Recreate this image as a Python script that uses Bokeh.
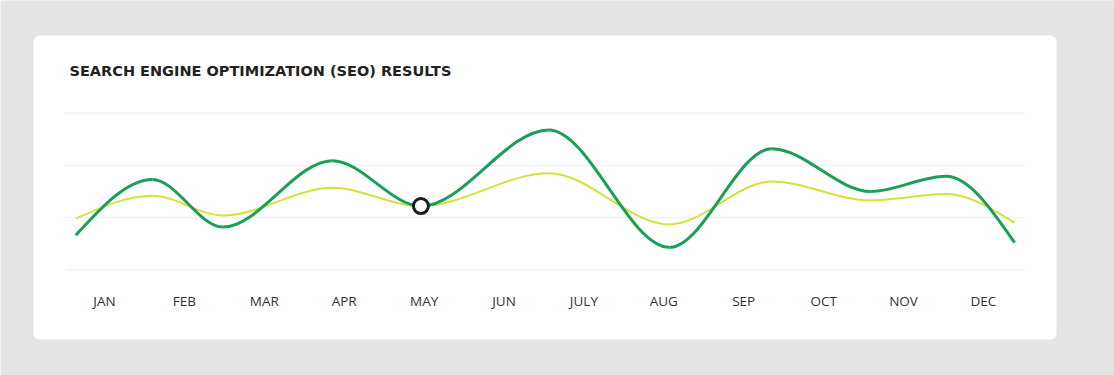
from bokeh.plotting import figure
from bokeh.models import Range1d, Label, ColumnDataSource
from bokeh.embed import file_html
from bokeh.resources import INLINE
from bokeh.core.properties import value

# ---------------- data ----------------
months = ["JAN", "FEB", "MAR", "APR", "MAY", "JUN", "JULY", "AUG", "SEP", "OCT", "NOV", "DEC"]
# sample positions in month units (0 = JAN, 11 = DEC)
point_x = [-0.36, 0.60, 1.48, 2.85, 3.96, 5.56, 7.07, 8.35, 9.59, 10.53, 11.39]
green_vals = [6.6, 17.3, 8.2, 20.9, 12.2, 26.8, 4.3, 23.2, 15.0, 17.9, 5.2]
yellow_vals = [9.8, 14.2, 10.4, 15.7, 12.2, 18.5, 8.7, 16.9, 13.3, 14.5, 9.0]
grid_values = [0, 10, 20, 30]
highlight_index = 4
title_text = "SEARCH ENGINE OPTIMIZATION (SEO) RESULTS"

# ---------------- layout helpers ----------------
W, H = 1114, 375
MX0, MDX = 104.0, 79.9      # page x of JAN, px per month
VY0, VDY = 269.3, 5.22      # page y of value 0, px per unit


def px_to_x(px):
    return (px - MX0) / MDX


def py_to_y(py):
    return (VY0 - py) / VDY


BG = "#e4e4e4"
GREEN = "#1a9f58"
YELLOW = "#d6e03c"

p = figure(width=W, height=H, output_backend="svg", toolbar_location=None,
           x_range=Range1d(px_to_x(0), px_to_x(W)),
           y_range=Range1d(py_to_y(H), py_to_y(0)),
           x_axis_type=None, y_axis_type=None, min_border=0)
p.grid.visible = False
p.outline_line_color = None
p.background_fill_color = BG
p.border_fill_color = BG

# card
p.quad(left=[px_to_x(33)], right=[px_to_x(1056)], top=[py_to_y(35)], bottom=[py_to_y(339)],
       fill_color="white", line_color=None, border_radius=6)

# gridlines
p.segment(x0=[px_to_x(65)] * len(grid_values), x1=[px_to_x(1024)] * len(grid_values),
          y0=grid_values, y1=grid_values, line_color="#eff2f6", line_width=1.5)


def smooth_segments(xs, ys):
    n = len(xs)
    d = [(ys[i + 1] - ys[i]) / (xs[i + 1] - xs[i]) for i in range(n - 1)]
    m = [0.0] * n
    for i in range(1, n - 1):
        if d[i - 1] * d[i] <= 0:
            m[i] = 0.0
        else:
            m[i] = 2.0 / (1.0 / d[i - 1] + 1.0 / d[i])
    m[0] = 1.5 * d[0]
    m[-1] = 1.5 * d[-1]
    out = dict(x0=[], y0=[], x1=[], y1=[], cx0=[], cy0=[], cx1=[], cy1=[])
    for i in range(n - 1):
        h = xs[i + 1] - xs[i]
        out["x0"].append(xs[i]); out["y0"].append(ys[i])
        out["x1"].append(xs[i + 1]); out["y1"].append(ys[i + 1])
        out["cx0"].append(xs[i] + h / 3); out["cy0"].append(ys[i] + m[i] * h / 3)
        out["cx1"].append(xs[i + 1] - h / 3); out["cy1"].append(ys[i + 1] - m[i + 1] * h / 3)
    return ColumnDataSource(out)


p.bezier(x0="x0", y0="y0", x1="x1", y1="y1", cx0="cx0", cy0="cy0", cx1="cx1", cy1="cy1",
         source=smooth_segments(point_x, yellow_vals), line_color=YELLOW, line_width=2)
p.bezier(x0="x0", y0="y0", x1="x1", y1="y1", cx0="cx0", cy0="cy0", cx1="cx1", cy1="cy1",
         source=smooth_segments(point_x, green_vals), line_color=GREEN, line_width=3)

p.scatter(x=[point_x[highlight_index]], y=[green_vals[highlight_index]], size=15,
          fill_color="white", line_color="#1b1b1b", line_width=3)

# month labels
p.text(x=list(range(len(months))), y=[py_to_y(300)] * len(months), text=months,
       text_font=value("Open Sans"), text_font_size="13.5px", text_color="#333333",
       text_align="center", text_baseline="middle")

# title
p.add_layout(Label(x=69, y=H - 70, x_units="screen", y_units="screen",
                   text=title_text, text_font="DejaVu Sans", text_font_style="bold",
                   text_font_size="14.5px", text_color="#222222", text_baseline="middle"))

html = file_html(p, INLINE)
html = html.replace("<body>", '<body style="margin:0;background:%s;">' % BG, 1)
open("out.html", "w").write(html)
